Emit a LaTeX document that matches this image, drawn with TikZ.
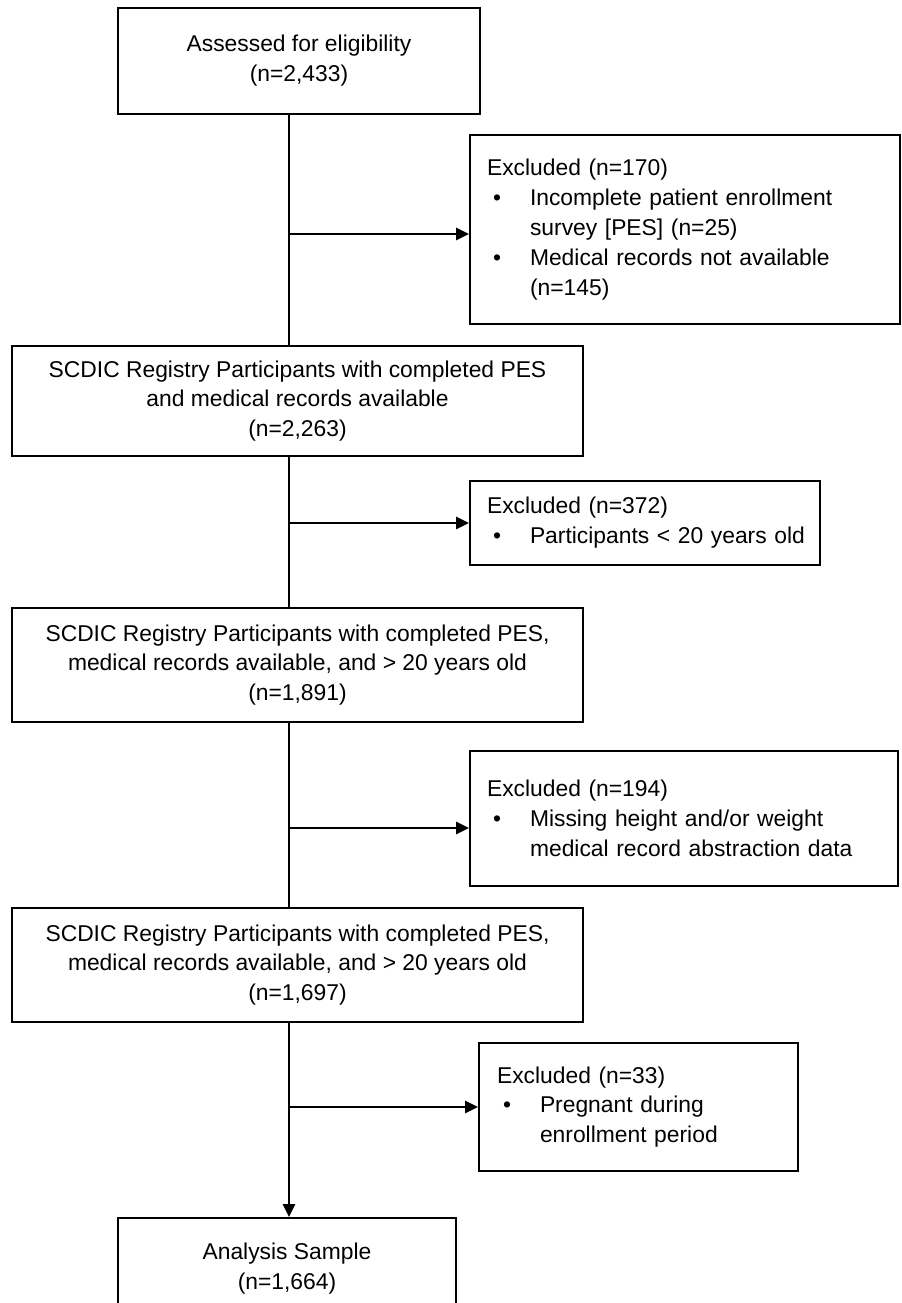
\documentclass[tikz,border=0pt]{standalone}
\usepackage{fontspec}
\setmainfont{Liberation Sans}
\usetikzlibrary{arrows.meta}
\newcommand\exbul{\makebox[0.86cm][l]{\hspace{0.12cm}\textbullet}}
\newcommand\exind{\hspace*{0.86cm}}
\tikzset{
  >={Triangle[length=2.6mm,width=2.4mm]},
  box/.style={draw=black,line width=1.1pt,align=center,inner sep=0pt,
    font=\fontsize{13pt}{17pt}\selectfont},
  exbox/.style={draw=black,line width=1.1pt,align=left,inner xsep=0.34cm,
    inner ysep=0pt,font=\fontsize{13pt}{17pt}\selectfont},
  flow/.style={line width=1.5pt,draw=black},
}

\begin{document}
\begin{tikzpicture}[x=0.02cm,y=-0.02cm]
  \useasboundingbox (0,0) rectangle (902,1303);
  \clip (0,0) rectangle (902,1303);
  % main column
  \node[box,minimum width=7.24cm,minimum height=2.12cm] (assess) at (299,61)
    {Assessed for eligibility\\(n=2,433)};
  \node[box,minimum width=11.42cm,minimum height=2.2cm] (reg1) at (297.5,401)
    {SCDIC Registry Participants with completed PES\\and medical records available\\(n=2,263)};
  \node[box,minimum width=11.42cm,minimum height=2.28cm] (reg2) at (297.5,665)
    {SCDIC Registry Participants with completed PES,\\medical records available, and > 20 years old\\(n=1,891)};
  \node[box,minimum width=11.42cm,minimum height=2.28cm] (reg3) at (297.5,965)
    {SCDIC Registry Participants with completed PES,\\medical records available, and > 20 years old\\(n=1,697)};
  \node[box,minimum width=6.76cm,minimum height=2.04cm] (sample) at (287,1269)
    {Analysis Sample\\(n=1,664)};
  % exclusions
  \node[exbox,text width=7.92cm,minimum height=3.78cm] (excl1) at (685,229.5)
    {Excluded (n=170)\\\exbul Incomplete patient enrollment\\\exind survey [PES] (n=25)\\\exbul Medical records not available\\\exind (n=145)};
  \node[exbox,text width=6.32cm,minimum height=1.68cm] (excl2) at (645,523)
    {Excluded (n=372)\\\mbox{\exbul Participants < 20 years old}};
  \node[exbox,text width=7.88cm,minimum height=2.7cm] (excl3) at (684,818.5)
    {Excluded (n=194)\\\exbul Missing height and/or weight\\\exind medical record abstraction data};
  \node[exbox,inner xsep=0.36cm,text width=5.66cm,minimum height=2.56cm] (excl4) at (638.5,1107)
    {Excluded (n=33)\\\exbul Pregnant during\\\exind enrollment period};
  % trunk
  \coordinate (tk) at (289,0);
  \draw[flow] (assess.south -| tk) -- (reg1.north -| tk);
  \draw[flow] (reg1.south -| tk) -- (reg2.north -| tk);
  \draw[flow] (reg2.south -| tk) -- (reg3.north -| tk);
  \draw[flow,->] (reg3.south -| tk) -- (sample.north -| tk);
  % branches
  \foreach \y/\n [count=\i] in {234/excl1,523/excl2,828/excl3,1107/excl4}{
    \coordinate (br\i) at (289,\y);
    \draw[flow,->] (br\i) -- (br\i -| \n.west);
  }
\end{tikzpicture}
\end{document}
